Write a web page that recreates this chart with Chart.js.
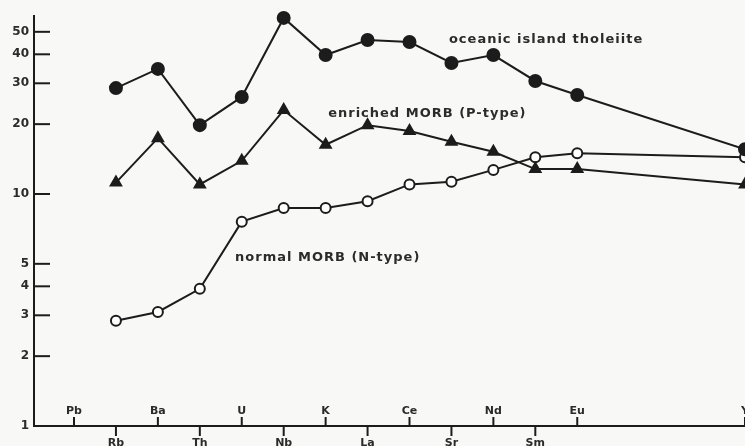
<!DOCTYPE html>
<html>
<head>
<meta charset="utf-8">
<title>Spider diagram — oceanic basalts</title>
<script src="https://cdn.jsdelivr.net/npm/chart.js@4/dist/chart.umd.min.js"></script>
<style>
    html, body { margin: 0; padding: 0; background: #f8f8f6; }
    #wrap { width: 745px; height: 446px; position: relative; }
</style>
</head>
<body>
<div id="wrap"><canvas id="spider"></canvas></div>
<script>
/* --------------------------------------------
   Datos: elementos en el eje X (posiciones vacías = sin marca)
-------------------------------------------- */
const elements = ["Pb", "Rb", "Ba", "Th", "U", "Nb", "K", "La", "Ce", "Sr", "Nd", "Sm", "Eu", "", "", "", "Y"];
const sampled = ["Rb", "Ba", "Th", "U", "Nb", "K", "La", "Ce", "Sr", "Nd", "Sm", "Eu", "Y"];

const oceanicIsland = [28.6, 34.6, 19.8, 26.2, 57.4, 39.7, 46.1, 45.2, 36.7, 39.7, 30.7, 26.7, 15.6];
const enrichedMorb  = [11.2, 17.4, 11.0, 13.9, 23.0, 16.3, 19.8, 18.7, 16.8, 15.2, 12.8, 12.8, 11.0];
const normalMorb    = [2.84, 3.10, 3.90, 7.6, 8.7, 8.7, 9.3, 11.0, 11.3, 12.7, 14.4, 15.0, 14.4];

const yTicks = [1, 2, 3, 4, 5, 10, 20, 30, 40, 50];

/* Etiquetas de las curvas (posición en coordenadas de datos) */
const curveLabels = [
    { text: "oceanic island tholeiite", x: 8.94, y: 44.8 },
    { text: "enriched MORB (P-type)",   x: 6.06, y: 21.5 },
    { text: "normal MORB (N-type)",     x: 3.84, y: 5.14 }
];

const INK = "#1c1c1c";
const TEXT = "#2b2b2b";
const FONT = "'DejaVu Sans', sans-serif";

const toPoints = (vals) => vals.map((v, i) => ({ x: elements.indexOf(sampled[i]), y: v }));

/* --------------------------------------------
   Ticks y etiquetas dibujados a mano (marcas hacia dentro)
-------------------------------------------- */
const axisMarks = {
    id: "axisMarks",
    afterDraw(chart) {
        const { ctx, scales: { x, y } } = chart;
        ctx.save();
        ctx.strokeStyle = INK;
        ctx.lineWidth = 2;
        ctx.fillStyle = TEXT;
        ctx.font = "bold 12px " + FONT;

        // eje Y
        ctx.textAlign = "right";
        ctx.textBaseline = "middle";
        yTicks.forEach(v => {
            const py = y.getPixelForValue(v);
            ctx.beginPath();
            ctx.moveTo(x.left, py);
            ctx.lineTo(x.left + 16, py);
            ctx.stroke();
            ctx.fillText(String(v), x.left - 5, py);
        });

        // eje X: alternando arriba / abajo
        ctx.font = "bold 11px " + FONT;
        ctx.textAlign = "center";
        elements.forEach((name, i) => {
            if (!name) return;
            const px = x.getPixelForValue(i);
            const base = y.bottom;
            ctx.beginPath();
            if (i % 2 === 0) {
                ctx.moveTo(px, base);
                ctx.lineTo(px, base - 9);
                ctx.stroke();
                ctx.textBaseline = "middle";
                ctx.fillText(name, px, base - 15);
            } else {
                ctx.moveTo(px, base);
                ctx.lineTo(px, base + 10);
                ctx.stroke();
                ctx.textBaseline = "top";
                ctx.fillText(name, px, base + 12);
            }
        });

        // nombres de las curvas
        ctx.font = "bold 13px " + FONT;
        if ("letterSpacing" in ctx) ctx.letterSpacing = "1px";
        ctx.textAlign = "left";
        ctx.textBaseline = "alphabetic";
        curveLabels.forEach(l => {
            ctx.fillText(l.text, x.getPixelForValue(l.x), y.getPixelForValue(l.y));
        });
        ctx.restore();
    }
};

const lineStyle = {
    borderColor: INK,
    borderWidth: 2,
    tension: 0,
    clip: false,
    pointBorderColor: INK,
    pointBorderWidth: 2
};

new Chart(document.getElementById("spider"), {
    type: "line",
    data: {
        datasets: [
            {
                ...lineStyle,
                label: "oceanic island tholeiite",
                data: toPoints(oceanicIsland),
                pointStyle: "circle",
                pointRadius: 6,
                pointBackgroundColor: INK
            },
            {
                ...lineStyle,
                label: "enriched MORB (P-type)",
                data: toPoints(enrichedMorb),
                pointStyle: "triangle",
                pointRadius: 6,
                pointBackgroundColor: INK
            },
            {
                ...lineStyle,
                label: "normal MORB (N-type)",
                data: toPoints(normalMorb),
                pointStyle: "circle",
                pointRadius: 5,
                pointBackgroundColor: "#ffffff"
            }
        ]
    },
    options: {
        responsive: true,
        maintainAspectRatio: false,
        devicePixelRatio: 1,
        animation: false,
        layout: { autoPadding: false, padding: { top: 16, right: 0, left: 0, bottom: 0 } },
        plugins: {
            legend: { display: false },
            tooltip: { enabled: false }
        },
        scales: {
            x: {
                type: "linear",
                min: -0.954,
                max: 16,
                ticks: { display: false },
                grid: { drawOnChartArea: false, drawTicks: false },
                border: { color: INK, width: 2 },
                afterFit: (s) => { s.height = 20; }
            },
            y: {
                type: "logarithmic",
                min: 1,
                max: 58.5,
                ticks: { display: false },
                grid: { drawOnChartArea: false, drawTicks: false },
                border: { color: INK, width: 2 },
                afterFit: (s) => { s.width = 34; }
            }
        }
    },
    plugins: [axisMarks]
});
</script>
</body>
</html>
